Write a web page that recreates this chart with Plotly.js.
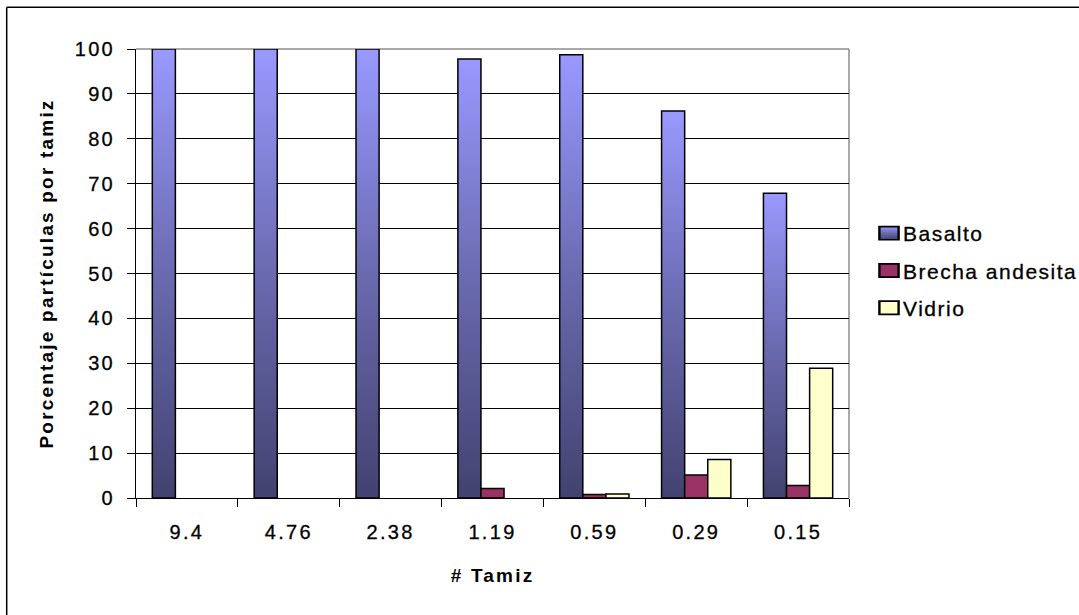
<!DOCTYPE html>
<html>
<head>
<meta charset="utf-8">
<script src="https://cdn.plot.ly/plotly-3.0.1.min.js"></script>
<style>
  html, body { margin: 0; padding: 0; background: #ffffff; }
  #chart { width: 1079px; height: 615px; }
  #chart .xtick text, #chart .ytick text { letter-spacing: 2.3px; stroke: #000; stroke-width: 0.3px; }
  #chart .g-xtitle text, #chart .g-ytitle text { letter-spacing: 2.2px; }
  #chart .legendtext { letter-spacing: 1.5px; stroke: #000; stroke-width: 0.3px; }
</style>
</head>
<body>
<div id="chart"></div>
<script>
// Sieve openings (# Tamiz) and percentage of particles retained per sieve
const tamices = ['9.4', '4.76', '2.38', '1.19', '0.59', '0.29', '0.15'];
const basalto = [100, 100, 100, 97.8, 98.7, 86.2, 67.9];
const brechaAndesita = [0, 0, 0, 2.1, 0.8, 5.1, 2.8];
const vidrio = [0, 0, 0, 0, 0.9, 8.6, 28.9];
const yTicks = [0, 10, 20, 30, 40, 50, 60, 70, 80, 90, 100];

const FONT = 'Liberation Sans, Arial, sans-serif';
const outline = { color: '#000000', width: 1.5 };

const series = [basalto, brechaAndesita, vidrio];
const traces = [
  { type: 'bar', name: 'Basalto', x: tamices, y: basalto, legendgroup: 'a',
    marker: { color: '#6b6bb8', line: outline } },
  { type: 'bar', name: 'Brecha andesita', x: tamices, y: brechaAndesita, legendgroup: 'b',
    marker: { color: '#993366', line: outline } },
  { type: 'bar', name: 'Vidrio', x: tamices, y: vidrio, legendgroup: 'c',
    marker: { color: '#ffffcc', line: outline } }
];

const W = 1079, H = 615;
const M = { l: 136, r: 230, t: 49, b: 117 };
const pw = W - M.l - M.r, ph = H - M.t - M.b;
// frame corner of the chart area, in paper units
const fx = (6.7 - M.l) / pw;
const fy = (H - M.b - 7.3) / ph;

const layout = {
  width: W, height: H,
  margin: M,
  paper_bgcolor: '#ffffff',
  plot_bgcolor: '#ffffff',
  font: { family: FONT, color: '#000000', size: 20 },
  barmode: 'group',
  bargap: 0.32,
  bargroupgap: 0,
  showlegend: true,
  legend: {
    xref: 'container', yref: 'container',
    x: 863 / W, y: 1 - 213 / H, xanchor: 'left', yanchor: 'top',
    font: { family: FONT, size: 21, color: '#000000' },
    traceorder: 'grouped', tracegroupgap: 7,
    bgcolor: 'rgba(0,0,0,0)', borderwidth: 0
  },
  xaxis: {
    type: 'category',
    showline: true, linecolor: '#000000', linewidth: 1,
    ticks: 'outside', tickson: 'boundaries', ticklen: 8, tickcolor: '#000000', tickwidth: 1,
    showgrid: false, zeroline: false,
    tickfont: { family: FONT, size: 20 },
    ticklabelstandoff: 16,
    title: { text: '<b># Tamiz</b>', font: { family: FONT, size: 19 }, standoff: 26 },
    automargin: true
  },
  yaxis: {
    range: [0, 100], tickvals: yTicks, ticktext: yTicks.map(String),
    showline: true, linecolor: '#000000', linewidth: 1,
    ticks: 'outside', ticklen: 8, tickcolor: '#000000', tickwidth: 1,
    showgrid: true, gridcolor: '#000000', gridwidth: 1, zeroline: false,
    tickfont: { family: FONT, size: 20 },
    ticklabelstandoff: 8,
    title: { text: '<b>Porcentaje partículas por tamiz</b>', font: { family: FONT, size: 19 }, standoff: 22 },
    automargin: true
  },
  shapes: [
    // grey frame of the plot area (top and right)
    { type: 'line', xref: 'paper', yref: 'paper', x0: 0, x1: 1, y0: 1, y1: 1,
      line: { color: '#8c8c8c', width: 1.5 }, layer: 'between' },
    { type: 'line', xref: 'paper', yref: 'paper', x0: 1, x1: 1, y0: 0, y1: 1,
      line: { color: '#8c8c8c', width: 1.5 }, layer: 'between' },
    // outer chart frame
    { type: 'line', xref: 'paper', yref: 'paper', x0: fx, x1: 1.6, y0: fy, y1: fy,
      line: { color: '#000000', width: 1.5 }, layer: 'above' },
    { type: 'line', xref: 'paper', yref: 'paper', x0: fx, x1: fx, y0: fy, y1: -0.5,
      line: { color: '#000000', width: 1.5 }, layer: 'above' }
  ]
};

Plotly.newPlot('chart', traces, layout, { staticPlot: true, displayModeBar: false }).then(function (gd) {
  // vertical light-to-dark gradient for the Basalto bars
  const svgNS = 'http://www.w3.org/2000/svg';
  const svg = gd.querySelector('.main-svg');
  let defs = svg.querySelector('defs');
  if (!defs) { defs = document.createElementNS(svgNS, 'defs'); svg.insertBefore(defs, svg.firstChild); }
  const grad = document.createElementNS(svgNS, 'linearGradient');
  grad.setAttribute('id', 'basaltoFill');
  grad.setAttribute('x1', '0'); grad.setAttribute('y1', '0');
  grad.setAttribute('x2', '0'); grad.setAttribute('y2', '1');
  [['0', '#9999ff'], ['0.5', '#6a6ab0'], ['1', '#424270']].forEach(function (s) {
    const st = document.createElementNS(svgNS, 'stop');
    st.setAttribute('offset', s[0]);
    st.setAttribute('stop-color', s[1]);
    grad.appendChild(st);
  });
  defs.appendChild(grad);

  // gradient on Basalto, and empty (zero) bars hidden so no outline sits on the baseline
  gd.querySelectorAll('.barlayer .trace').forEach(function (tr, ti) {
    tr.querySelectorAll('.point').forEach(function (pt, pi) {
      const p = pt.querySelector('path');
      if (!p) return;
      if (ti === 0) p.style.fill = 'url(#basaltoFill)';
      if (series[ti] && series[ti][pi] === 0) p.style.display = 'none';
    });
  });

  // legend labels are letter-spaced, so let them run past the measured box
  gd.querySelectorAll('.legend [clip-path]').forEach(function (el) { el.removeAttribute('clip-path'); });

  // wider legend swatches placed close to their labels
  gd.querySelectorAll('.legend .traces').forEach(function (item, i) {
    item.querySelectorAll('.legendpoints path').forEach(function (p) {
      const t = p.getAttribute('transform') || '';
      p.setAttribute('transform', t + ' translate(6,0) scale(1.6,1.1)');
      if (i === 0) p.style.fill = 'url(#basaltoFill)';
    });
  });
});
</script>
</body>
</html>
